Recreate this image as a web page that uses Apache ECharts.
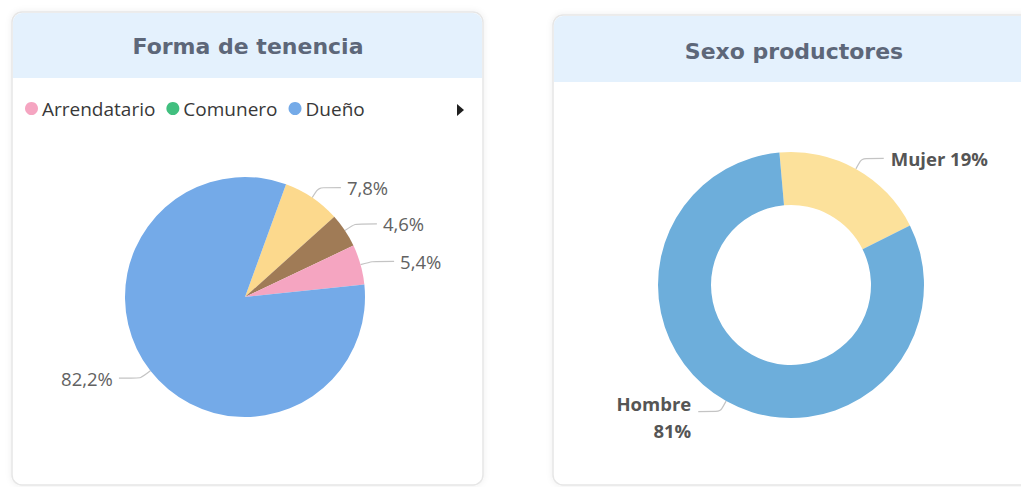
<!DOCTYPE html>
<html lang="es">
<head>
<meta charset="utf-8">
<title>Forma de tenencia · Sexo productores</title>
<script src="https://cdn.jsdelivr.net/npm/echarts@6/dist/echarts.min.js"></script>
<style>
  html, body { margin: 0; padding: 0; background: #ffffff; }
  #chart { width: 1021px; height: 487px; }
</style>
</head>
<body>
<div id="chart"></div>
<script>
// Forma de tenencia (porcentaje de productores)
const tenenciaCategorias = ['Mediero', 'Otros', 'Arrendatario', 'Comunero', 'Dueño'];
const tenenciaPorcentajes = [7.8, 4.6, 5.4, 0, 82.2];
const tenenciaColores = ['#fcd98d', '#a07b56', '#f5a5c1', '#41bf7f', '#74aae8'];
const tenenciaLeyenda = ['Arrendatario', 'Comunero', 'Dueño'];

// Sexo de los productores (porcentaje)
const sexoCategorias = ['Mujer', 'Hombre'];
const sexoPorcentajes = [19, 81];
const sexoColores = ['#fce19b', '#6daedb'];

const TITLE_FONT = 'bold 22px "DejaVu Sans", sans-serif';
const TEXT_FONT = '"Open Sans", "Noto Sans", sans-serif';

const chart = echarts.init(document.getElementById('chart'), null, { renderer: 'svg' });

function card(x, y, w, h, headerH) {
  return [
    {
      type: 'rect', z: -10, silent: true,
      shape: { x: x, y: y, width: w, height: h, r: 10 },
      style: { fill: '#ffffff', stroke: '#e6e6e6', lineWidth: 1.5,
               shadowBlur: 6, shadowColor: 'rgba(0,0,0,0.07)' }
    },
    {
      type: 'rect', z: -9, silent: true,
      shape: { x: x + 1, y: y + 1, width: w - 2, height: headerH, r: [9, 9, 0, 0] },
      style: { fill: '#e4f1fd' }
    }
  ];
}

function cardTitle(text, cx, cy) {
  return {
    type: 'text', z: 5, silent: true, x: cx, y: cy,
    style: { text: text, font: TITLE_FONT, fill: '#5d6779', align: 'center', verticalAlign: 'middle' }
  };
}

const tenenciaData = tenenciaCategorias.map((name, i) => {
  const item = { name: name, value: tenenciaPorcentajes[i], itemStyle: { color: tenenciaColores[i] } };
  if (tenenciaPorcentajes[i] === 0) {
    item.label = { show: false };
    item.labelLine = { show: false };
  }
  return item;
});

const sexoData = sexoCategorias.map((name, i) => ({
  name: name, value: sexoPorcentajes[i], itemStyle: { color: sexoColores[i] }
}));

const option = {
  backgroundColor: '#ffffff',
  animation: false,
  graphic: [
    ...card(12, 12, 471, 473, 65),
    ...card(553, 15, 480, 470, 66),
    cardTitle('Forma de tenencia', 248, 46),
    cardTitle('Sexo productores', 794, 51),
    {
      // flecha de paginación de la leyenda
      type: 'polygon', z: 5, silent: true,
      shape: { points: [[457, 104], [464, 110], [457, 116]] },
      style: { fill: '#1f1f1f' }
    }
  ],
  legend: {
    data: tenenciaLeyenda,
    left: 25, top: 99,
    padding: 0,
    icon: 'circle',
    itemWidth: 13, itemHeight: 13, itemGap: 11,
    selectedMode: false,
    textStyle: { fontFamily: TEXT_FONT, fontSize: 19, color: '#383838', padding: [0, 0, 0, -1] }
  },
  series: [
    {
      name: 'Forma de tenencia',
      type: 'pie',
      center: [245, 297],
      radius: 120,
      startAngle: 70,
      clockwise: true,
      avoidLabelOverlap: false,
      emphasis: { disabled: true },
      label: {
        show: true, position: 'outside',
        fontFamily: TEXT_FONT, fontSize: 18.5, color: '#626262', distanceToLabelLine: 6,
        formatter: p => p.value.toFixed(1).replace('.', ',') + '%'
      },
      labelLine: { show: true, length: 12, length2: 22, smooth: 0.2,
                   lineStyle: { color: '#c4c4c4', width: 1.2 } },
      data: tenenciaData
    },
    {
      name: 'Sexo productores',
      type: 'pie',
      center: [791, 285],
      radius: [80, 133],
      startAngle: 95,
      clockwise: true,
      avoidLabelOverlap: false,
      emphasis: { disabled: true },
      label: {
        show: true, position: 'outside',
        fontFamily: TEXT_FONT, fontSize: 18.5, fontWeight: 'bold', color: '#555555',
        lineHeight: 27, distanceToLabelLine: 7,
        formatter: p => p.name === 'Hombre' ? p.name + '\n' + p.value + '%' : p.name + ' ' + p.value + '%'
      },
      // la etiqueta de dos líneas queda algo por debajo de su guía
      labelLayout: params => (params.dataIndex === 1 ? { dy: 5 } : {}),
      labelLine: { show: true, length: 12, length2: 22, smooth: 0.2,
                   lineStyle: { color: '#c4c4c4', width: 1.2 } },
      data: sexoData
    }
  ]
};

chart.setOption(option);
</script>
</body>
</html>
